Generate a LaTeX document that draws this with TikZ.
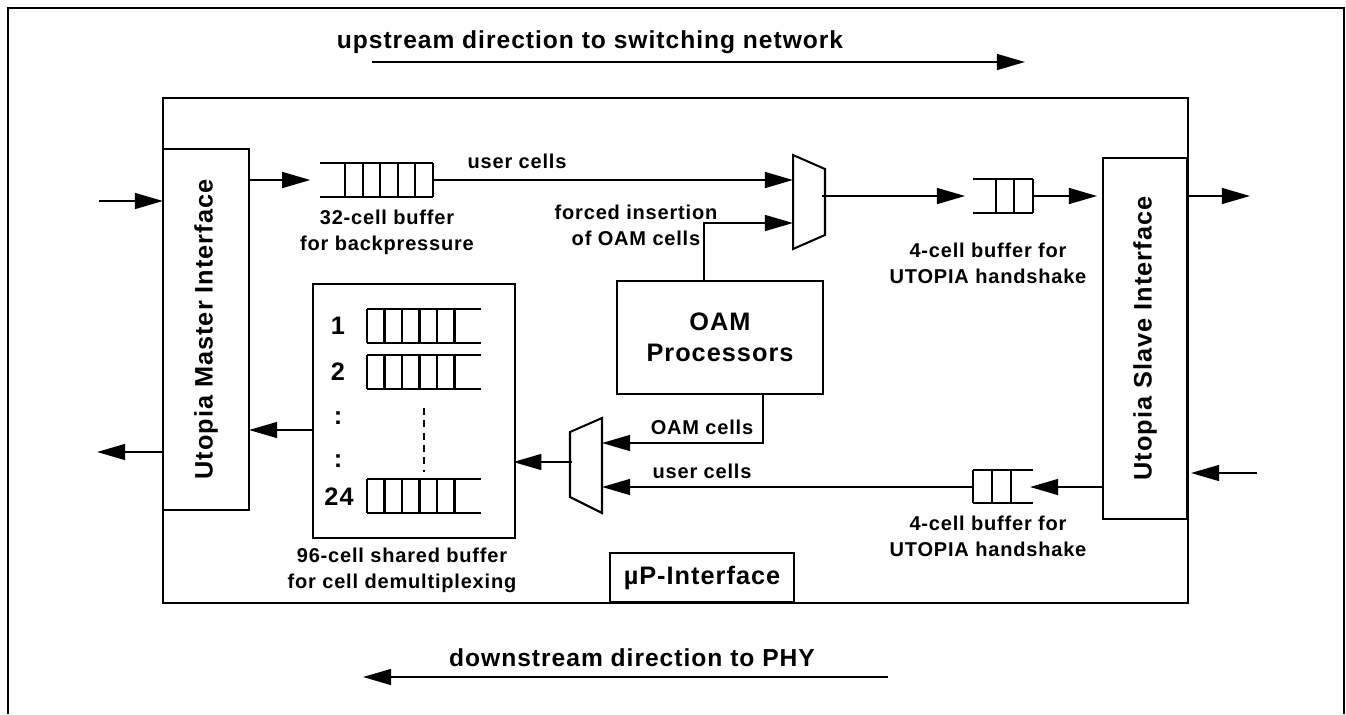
\documentclass[tikz,border=0pt]{standalone}
\usepackage{fontspec}
\setmainfont{Liberation Sans}[LetterSpace=4]
\usetikzlibrary{arrows.meta,calc}
\tikzset{
  ln/.style={line width=1.15pt},
  arr/.style={ln, -{Triangle[length=16pt,width=9pt]}},
  box/.style={draw, ln, inner sep=0pt, outer sep=0pt},
  ghost/.style={inner sep=0pt, outer sep=0pt},
  lbl/.style={font=\fontsize{11.4}{14.7}\selectfont\bfseries, align=center, inner sep=0pt},
  ttl/.style={font=\fontsize{14}{16}\selectfont\bfseries, inner sep=0pt},
  bigtxt/.style={font=\fontsize{14.4}{17.6}\selectfont\bfseries, align=center},
}
\begin{document}
\begin{tikzpicture}[x=0.02cm,y=-0.02cm]
\useasboundingbox (0,0) rectangle (1346,714);
% outer frame
\draw[line width=0.9pt] (8,714) -- (8,8) -- (1344,8) -- (1344,714);

% direction labels
\node[ttl] (uptxt) at (590,42) {upstream direction to switching network};
\coordinate (ua) at (372,62);
\coordinate (ub) at (1025,62);
\draw[arr] (ua) -- (ub);
\node[ttl] (dntxt) at (632,658) {downstream direction to PHY};
\coordinate (da) at (888,677);
\coordinate (db) at (363,677);
\draw[arr] (da) -- (db);

% main box
\node[box, minimum width=20.5cm, minimum height=10.1cm] (main) at (675.5,350.5) {};

% interfaces
\node[box, minimum width=1.72cm, minimum height=7.22cm, bigtxt] (master) at (206,329.5) {\rotatebox{90}{Utopia Master Interface}};
\node[box, minimum width=1.68cm, minimum height=7.22cm, bigtxt] (slave) at (1145,338.5) {\rotatebox{90}{Utopia Slave Interface}};

% OAM processors
\node[box, minimum width=4.12cm, minimum height=2.26cm, bigtxt] (oam) at (720,337.5) {OAM\\Processors};

% uP interface
\node[box, minimum width=3.68cm, minimum height=0.98cm, bigtxt] (upi) at (702,577.5) {µP-Interface};

% shared buffer box
\node[box, minimum width=4.04cm, minimum height=5.08cm] (shared) at (414,411) {};
\foreach \t in {309,355,479}{
  \draw[ln] (367,\t) -- (481,\t) (367,{\t+34}) -- (481,{\t+34});
  \foreach \x in {367,384.5,402,419.5,437,454.5}
    \draw[ln] (\x,\t) -- (\x,{\t+34});
}
\draw[line width=0.8pt, dash pattern=on 4pt off 3pt] (424,408) -- (424,472);
\node[bigtxt, inner sep=0pt] (n1) at (338,326) {1};
\node[bigtxt, inner sep=0pt] (n2) at (338,372) {2};
\node[bigtxt, inner sep=0pt] (nd1) at (338,418) {:};
\node[bigtxt, inner sep=0pt] (nd2) at (338,461) {:};
\node[bigtxt, inner sep=0pt] (n24) at (339,497) {24};
\node[lbl] (sharedlbl) at (402,570) {96-cell shared buffer\\for cell demultiplexing};

% 32-cell buffer
\node[ghost, minimum width=2.26cm, minimum height=0.68cm] (buf32) at (376.5,180) {};
\draw[ln] (buf32.north west) -- (buf32.north east) (buf32.south west) -- (buf32.south east);
\foreach \x in {345,362.6,380.2,397.8,415.4,433}
  \draw[ln] (\x,163) -- (\x,197);
\node[lbl] (buf32lbl) at (387,232) {32-cell buffer\\for backpressure};

% upper mux
\node[ghost, minimum width=0.64cm, minimum height=1.88cm] (mux1) at (809,202) {};
\draw[ln] (mux1.north west) -- ([yshift=-0.28cm]mux1.north east) -- ([yshift=0.28cm]mux1.south east) -- (mux1.south west) -- cycle;

% upper 4-cell buffer
\node[ghost, minimum width=1.2cm, minimum height=0.68cm] (buf4a) at (1003,196) {};
\draw[ln] (buf4a.north west) -- (buf4a.north east) (buf4a.south west) -- (buf4a.south east);
\foreach \x in {996,1014,1033}
  \draw[ln] (\x,179) -- (\x,213);
\node[lbl] (buf4albl) at (988,263) {4-cell buffer for\\UTOPIA handshake};

% lower 4-cell buffer
\node[ghost, minimum width=1.2cm, minimum height=0.66cm] (buf4b) at (1003,486.5) {};
\draw[ln] (buf4b.north west) -- (buf4b.north east) (buf4b.south west) -- (buf4b.south east);
\foreach \x in {973,992,1011}
  \draw[ln] (\x,470) -- (\x,503);
\node[lbl] (buf4blbl) at (988,536) {4-cell buffer for\\UTOPIA handshake};

% lower mux
\node[ghost, minimum width=0.64cm, minimum height=1.9cm] (mux2) at (586,465.5) {};
\draw[ln] (mux2.north east) -- (mux2.south east) -- ([yshift=0.32cm]mux2.south west) -- ([yshift=-0.28cm]mux2.north west) -- cycle;

% ---- connectors: upstream
\coordinate (inL) at (99,201);
\draw[arr] (inL) -- (inL -| master.west);
\draw[arr, shorten >=5.5pt] (master.east |- buf32.west) -- (buf32.west);
\draw[arr] (buf32.east) -- (buf32.east -| mux1.west);
\node[lbl, anchor=base] (uc1) at (517,168) {user cells};
\coordinate (f1) at (704,223);
\draw[arr] (oam.north -| f1) -- (f1) -- (f1 -| mux1.west);
\node[lbl] (forcedlbl) at (636,225) {forced insertion\\of OAM cells};
\coordinate (m1o) at (822,196);
\draw[arr, shorten >=4.5pt] (m1o) -- (m1o -| buf4a.west);
\draw[arr, shorten >=3.4pt] (buf4a.east) -- (buf4a.east -| slave.west);
\coordinate (outR) at (1250,196);
\draw[arr] (slave.east |- outR) -- (outR);

% ---- connectors: downstream
\coordinate (inR) at (1257,473);
\draw[arr, shorten >=2.3pt] (inR) -- (inR -| slave.east);
\coordinate (sb) at (1103,487);
\draw[arr, shorten >=-1.7pt] (sb) -- (sb -| buf4b.east);
\draw[arr] (buf4b.west |- sb) -- (sb -| mux2.east);
\node[lbl, anchor=base] (uc2) at (702,478) {user cells};
\coordinate (o2) at (763,443);
\draw[arr] (oam.south -| o2) -- (o2) -- (o2 -| mux2.east);
\node[lbl, anchor=base] (oamc) at (702,434) {OAM cells};
\coordinate (m2o) at (572,462);
\draw[arr, shorten >=-1pt] (m2o) -- (m2o -| shared.east);
\coordinate (s1) at (313,430);
\draw[arr] (s1) -- (s1 -| master.east);
\coordinate (outL) at (97,452);
\draw[arr] (master.west |- outL) -- (outL);
\end{tikzpicture}
\end{document}
